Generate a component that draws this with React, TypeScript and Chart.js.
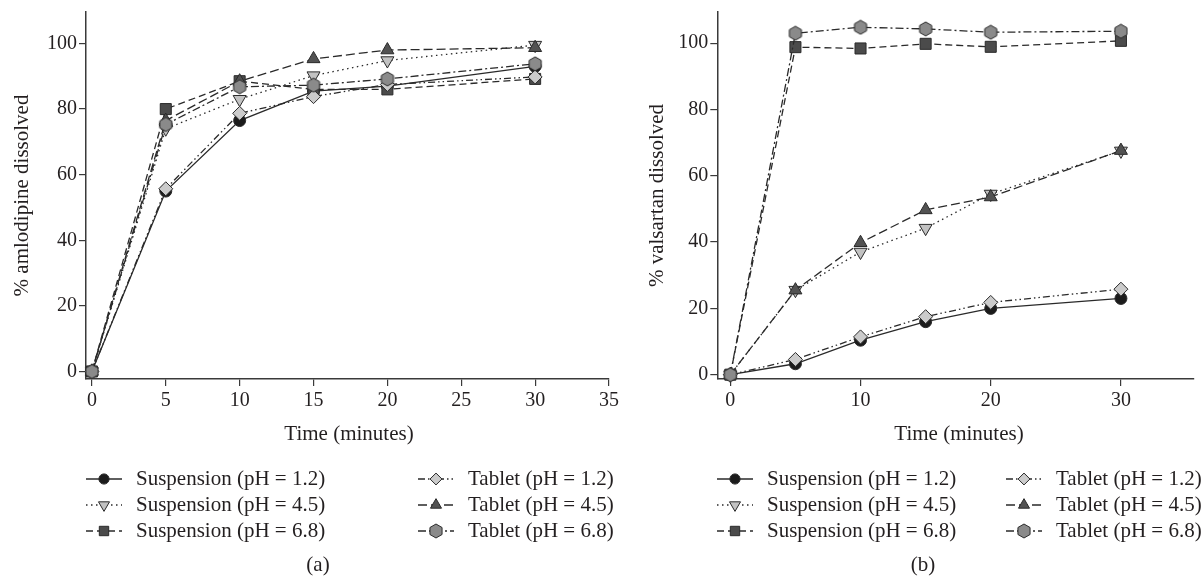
import React, { useEffect, useRef } from "react";
import { Chart, registerables } from "chart.js";
import { drawPoint } from "chart.js/helpers";

Chart.register(...registerables);

// ---------- data ----------
const timePoints = [0, 5, 10, 15, 20, 30];

const seriesLabels = [
  "Suspension (pH = 1.2)",
  "Suspension (pH = 4.5)",
  "Suspension (pH = 6.8)",
  "Tablet (pH = 1.2)",
  "Tablet (pH = 4.5)",
  "Tablet (pH = 6.8)",
];

// (a) % amlodipine dissolved
const amlSuspension12 = [0, 55, 76.5, 85.5, 87, 93];
const amlSuspension45 = [0, 74, 83, 90.2, 94.8, 99.5];
const amlSuspension68 = [0, 80, 88.5, 86, 86, 89.2];
const amlTablet12 = [0, 55.7, 78.7, 83.8, 87.5, 89.8];
const amlTablet45 = [0, 76.5, 88.5, 95.3, 98, 98.7];
const amlTablet68 = [0, 75.3, 86.8, 87.3, 89.2, 93.8];

// (b) % valsartan dissolved
const valSuspension12 = [0, 3.3, 10.4, 16, 20, 23];
const valSuspension45 = [0, 25.5, 37, 44.2, 54.5, 67.5];
const valSuspension68 = [0, 98.8, 98.4, 99.8, 98.9, 100.7];
const valTablet12 = [0, 4.6, 11.4, 17.5, 21.8, 25.8];
const valTablet45 = [0, 25.5, 39.8, 49.7, 53.6, 67.6];
const valTablet68 = [0, 103, 104.8, 104.3, 103.3, 103.6];

const xTicksA = [0, 5, 10, 15, 20, 25, 30, 35];
const xTicksB = [0, 10, 20, 30];
const yTicks = [0, 20, 40, 60, 80, 100];

// ---------- styles ----------
const FONT = '"Liberation Serif", "Times New Roman", serif';
const INK = "#231f20";
const AXIS = "#3a3a3a";
const LINE = "#2a2a2a";

const dashes = [[], [1.5, 3.5], [7, 4], [7, 3, 1.5, 3, 1.5, 3], [9, 4], [8, 3, 2, 3]];
const pointKinds = ["circle", "triangle", "rect", "rectRot", "triangle", "hexagon"];
const pointRotations = [0, 180, 0, 0, 0, 0];
const pointRadii = [6, 7.5, 7.8, 7, 7.5, 7];
const pointFills = ["#1b1b1b", "#c2c2c2", "#4b4b4b", "#cbcbcb", "#525252", "#8a8a8a"];

function makeHexagon(fill: string, r: number): HTMLCanvasElement {
  const c = document.createElement("canvas");
  const s = Math.ceil(r * 2 + 2);
  c.width = s;
  c.height = s;
  const ctx = c.getContext("2d")!;
  const cx = s / 2;
  const cy = s / 2;
  ctx.beginPath();
  for (let i = 0; i < 6; i++) {
    const a = -Math.PI / 2 + (i * Math.PI) / 3;
    const px = cx + r * Math.cos(a);
    const py = cy + r * Math.sin(a);
    if (i === 0) ctx.moveTo(px, py);
    else ctx.lineTo(px, py);
  }
  ctx.closePath();
  ctx.fillStyle = fill;
  ctx.fill();
  ctx.lineWidth = 1;
  ctx.strokeStyle = "#2a2a2a";
  ctx.stroke();
  return c;
}

type PanelCfg = {
  width: number;
  height: number;
  yWidth: number;
  padRight: number;
  xMin: number;
  xMax: number;
  yMin: number;
  yMax: number;
  xTicks: number[];
  series: number[][];
  yTitle: string;
  yTitleX: number;
  xTitleX: number;
  col1: number;
  col2: number;
  panel: string;
  panelX: number;
};

const CHART_TOP = 12;
const CHART_BOTTOM = 379;
const XTITLE_Y = 434;
const LEGEND_ROWS = [479, 505, 531];
const PANEL_Y = 565;
const SAMPLE_W = 36;
const TEXT_GAP = 14;

function buildChart(canvas: HTMLCanvasElement, cfg: PanelCfg) {
  const hex = makeHexagon(pointFills[5], pointRadii[5]);
  const styleOf = (i: number) => (pointKinds[i] === "hexagon" ? hex : pointKinds[i]);

  const datasets = cfg.series.map((vals, i) => ({
    label: seriesLabels[i],
    data: timePoints.map((t, k) => ({ x: t, y: vals[k] })),
    borderColor: LINE,
    borderWidth: 1.3,
    borderDash: dashes[i],
    backgroundColor: pointFills[i],
    pointStyle: styleOf(i) as any,
    pointRotation: pointRotations[i],
    pointRadius: pointRadii[i],
    pointBackgroundColor: pointFills[i],
    pointBorderColor: "#2a2a2a",
    pointBorderWidth: 1,
    tension: 0,
    fill: false,
    clip: false as any,
    order: 6 - i,
  }));

  const annot = {
    id: "annot",
    afterDraw(chart: any) {
      const ctx: CanvasRenderingContext2D = chart.ctx;
      ctx.save();
      ctx.fillStyle = INK;
      ctx.font = `21px ${FONT}`;
      ctx.textAlign = "center";
      ctx.textBaseline = "middle";
      ctx.fillText("Time (minutes)", cfg.xTitleX, XTITLE_Y);
      ctx.save();
      ctx.translate(cfg.yTitleX, (CHART_TOP + CHART_BOTTOM) / 2);
      ctx.rotate(-Math.PI / 2);
      ctx.fillText(cfg.yTitle, 0, 0);
      ctx.restore();
      ctx.fillText(cfg.panel, cfg.panelX, PANEL_Y);

      // legend
      for (let i = 0; i < seriesLabels.length; i++) {
        const colX = i < 3 ? cfg.col1 : cfg.col2;
        const y = LEGEND_ROWS[i % 3];
        ctx.save();
        ctx.strokeStyle = LINE;
        ctx.lineWidth = 1.3;
        ctx.setLineDash(dashes[i]);
        ctx.beginPath();
        ctx.moveTo(colX, y);
        ctx.lineTo(colX + SAMPLE_W, y);
        ctx.stroke();
        ctx.setLineDash([]);
        ctx.fillStyle = pointFills[i];
        ctx.strokeStyle = "#2a2a2a";
        ctx.lineWidth = 1;
        drawPoint(
          ctx,
          {
            pointStyle: styleOf(i) as any,
            rotation: pointRotations[i],
            radius: pointRadii[i] * 0.85,
            borderWidth: 1,
          } as any,
          colX + SAMPLE_W / 2,
          y
        );
        ctx.restore();
        ctx.fillStyle = INK;
        ctx.textAlign = "left";
        ctx.fillText(seriesLabels[i], colX + SAMPLE_W + TEXT_GAP, y);
      }
      ctx.restore();
    },
  };

  const tickFont = { family: FONT, size: 20 };

  return new Chart(canvas, {
    type: "line",
    data: { datasets: datasets as any },
    options: {
      responsive: false,
      animation: false,
      events: [],
      layout: { padding: { left: 0, top: CHART_TOP, right: cfg.padRight, bottom: 0 } },
      plugins: {
        legend: { display: false },
        tooltip: { enabled: false },
        title: { display: false },
      },
      scales: {
        x: {
          type: "linear",
          min: cfg.xMin,
          max: cfg.xMax,
          afterBuildTicks: (axis: any) => {
            axis.ticks = cfg.xTicks.map((v) => ({ value: v }));
          },
          afterFit: (axis: any) => {
            axis.height = cfg.height - CHART_BOTTOM;
            axis.paddingLeft = 0;
            axis.paddingRight = 0;
          },
          grid: { drawOnChartArea: false, drawTicks: true, tickLength: 7, color: AXIS, lineWidth: 1.2 },
          border: { display: true, color: AXIS, width: 1.5 },
          ticks: { color: INK, font: tickFont, padding: 3, maxRotation: 0, autoSkip: false },
        },
        y: {
          type: "linear",
          min: cfg.yMin,
          max: cfg.yMax,
          afterBuildTicks: (axis: any) => {
            axis.ticks = yTicks.map((v) => ({ value: v }));
          },
          afterFit: (axis: any) => {
            axis.width = cfg.yWidth;
            axis.paddingTop = 0;
            axis.paddingBottom = 0;
          },
          grid: { drawOnChartArea: false, drawTicks: true, tickLength: 7, color: AXIS, lineWidth: 1.2 },
          border: { display: true, color: AXIS, width: 1.5 },
          ticks: { color: INK, font: tickFont, padding: 2, autoSkip: false },
        },
      },
    } as any,
    plugins: [annot],
  });
}

const LEFT_W = 625;
const RIGHT_W = 577;
const H = 581;

const panelA: PanelCfg = {
  width: LEFT_W,
  height: H,
  yWidth: 86,
  padRight: 16,
  xMin: -0.4,
  xMax: 35,
  yMin: -2.3,
  yMax: 109.6,
  xTicks: xTicksA,
  series: [amlSuspension12, amlSuspension45, amlSuspension68, amlTablet12, amlTablet45, amlTablet68],
  yTitle: "% amlodipine dissolved",
  yTitleX: 22,
  xTitleX: 349,
  col1: 86,
  col2: 418,
  panel: "(a)",
  panelX: 318,
};

const panelB: PanelCfg = {
  width: RIGHT_W,
  height: H,
  yWidth: 92.3,
  padRight: 0,
  xMin: -1,
  xMax: 35.55,
  yMin: -1.3,
  yMax: 109.4,
  xTicks: xTicksB,
  series: [valSuspension12, valSuspension45, valSuspension68, valTablet12, valTablet45, valTablet68],
  yTitle: "% valsartan dissolved",
  yTitleX: 32,
  xTitleX: 334,
  col1: 92,
  col2: 381,
  panel: "(b)",
  panelX: 298,
};

export default function App() {
  const refA = useRef<HTMLCanvasElement>(null);
  const refB = useRef<HTMLCanvasElement>(null);

  useEffect(() => {
    const a = buildChart(refA.current!, panelA);
    const b = buildChart(refB.current!, panelB);
    return () => {
      a.destroy();
      b.destroy();
    };
  }, []);

  return (
    <div style={{ position: "absolute", left: 0, top: 0, width: 1202, height: H, background: "#fff" }}>
      <canvas
        ref={refA}
        width={LEFT_W}
        height={H}
        style={{ position: "absolute", left: 0, top: 0, width: LEFT_W, height: H }}
      />
      <canvas
        ref={refB}
        width={RIGHT_W}
        height={H}
        style={{ position: "absolute", left: LEFT_W, top: 0, width: RIGHT_W, height: H }}
      />
    </div>
  );
}
